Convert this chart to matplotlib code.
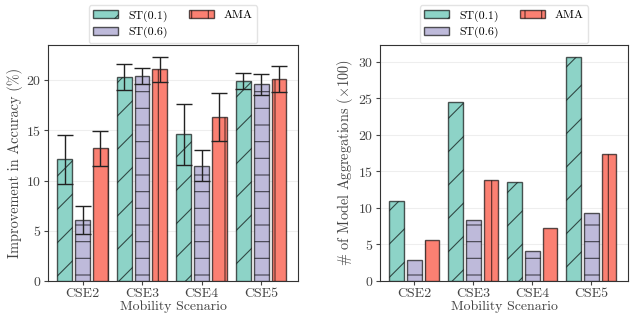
import matplotlib
matplotlib.use("Agg")
import matplotlib.pyplot as plt
import numpy as np

plt.rcParams['font.family'] = 'serif'
plt.rcParams['font.serif'] = ['cmr10', 'DejaVu Serif']
plt.rcParams['mathtext.fontset'] = 'cm'
plt.rcParams['axes.formatter.use_mathtext'] = True
plt.rcParams['hatch.linewidth'] = 0.8

scenarios = ['CSE2', 'CSE3', 'CSE4', 'CSE5']
methods = ['ST(0.1)', 'ST(0.6)', 'AMA']

acc_st01 = [12.1, 20.3, 14.6, 19.9]
acc_st06 = [6.1, 20.4, 11.5, 19.6]
acc_ama = [13.2, 21.1, 16.3, 20.1]
err_st01 = [2.45, 1.3, 3.0, 0.8]
err_st06 = [1.4, 0.8, 1.55, 1.05]
err_ama = [1.7, 1.25, 2.4, 1.3]

agg_st01 = [11.0, 24.5, 13.5, 30.7]
agg_st06 = [2.9, 8.3, 4.1, 9.3]
agg_ama = [5.6, 13.8, 7.3, 17.4]

colors = ['#8dd3c7', '#bebada', '#fb8072']
hatches = ['/', '-', '|']
txt = '#444444'

fig = plt.figure(figsize=(6.37, 3.2), dpi=100)
ax1 = fig.add_axes([48/637, 39/320, 250/637, 236/320])
ax2 = fig.add_axes([380/637, 39/320, 248/637, 236/320])

x = np.arange(len(scenarios))
w = 0.25
offs = [-0.3, 0, 0.3]

def draw(ax, vals, errs, ylim, ylabel, yt):
    for i, (v, c, h, m) in enumerate(zip(vals, colors, hatches, methods)):
        ax.bar(x + offs[i], v, w, color=c, hatch=h, edgecolor=(0, 0, 0, 0.65),
               linewidth=1.0, label=m, zorder=3)
        if errs is not None:
            ax.errorbar(x + offs[i], v, yerr=errs[i], fmt='none', ecolor='#222222',
                        elinewidth=1.0, capsize=6, capthick=1.0, zorder=4)
    ax.set_xlim(-0.58, 3.62)
    ax.set_ylim(*ylim)
    ax.set_yticks(yt)
    ax.set_xticks(x)
    ax.set_xticklabels(scenarios)
    ax.grid(axis='y', color='#eeeeee', linewidth=0.8, zorder=0)
    ax.set_axisbelow(True)
    ax.set_ylabel(ylabel, fontsize=10.3, color=txt, labelpad=2)
    ax.set_xlabel('Mobility Scenario', fontsize=10, color=txt, labelpad=0)
    ax.tick_params(labelsize=10, colors=txt, length=3, pad=2)
    for s in ax.spines.values():
        s.set_color('#333333')
    ax.legend(ncol=2, loc='lower center', bbox_to_anchor=(0.5, 1.0), fontsize=8.6,
              frameon=True, edgecolor='#dddddd', handlelength=2.1, handletextpad=0.8,
              columnspacing=1.8, borderaxespad=0.15, labelspacing=0.45)

draw(ax1, [acc_st01, acc_st06, acc_ama], [err_st01, err_st06, err_ama], (0, 23.5),
     'Improvement in Accuracy (%)', [0, 5, 10, 15, 20])
draw(ax2, [agg_st01, agg_st06, agg_ama], None, (0, 32.3),
     r'# of Model Aggregations ($\times 100$)', [0, 5, 10, 15, 20, 25, 30])

fig.savefig('out.png', dpi=100)
